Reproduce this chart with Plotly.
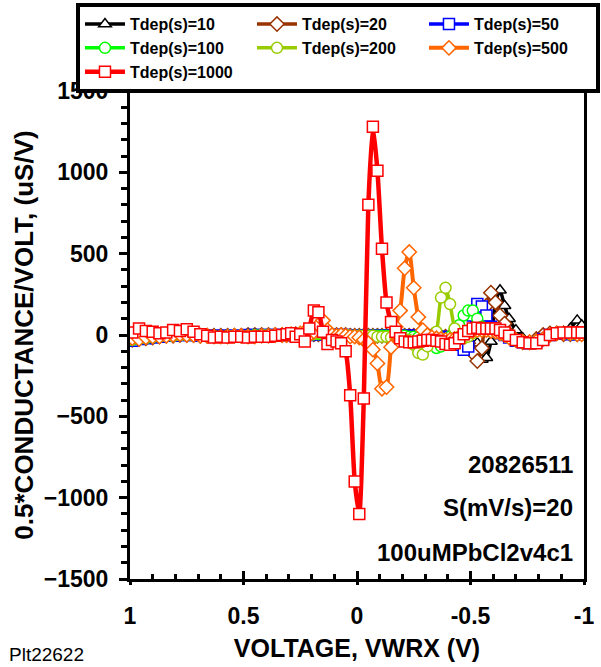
import plotly.graph_objects as go

# ---------------- data ----------------
VOLTAGE = [0.99, 0.96, 0.93, 0.90, 0.87, 0.84, 0.81, 0.78, 0.75, 0.72, 0.69, 0.66,
           0.63, 0.60, 0.57, 0.54, 0.51, 0.48, 0.45, 0.42, 0.39, 0.36, 0.33,
           0.31, 0.29, 0.27, 0.25, 0.23, 0.21, 0.19, 0.17, 0.15, 0.13, 0.11, 0.09,
           0.07, 0.05, 0.03, 0.01, -0.01, -0.03, -0.05, -0.07, -0.09, -0.11, -0.13,
           -0.15, -0.17, -0.19, -0.21, -0.23, -0.25, -0.27, -0.29, -0.31, -0.33,
           -0.35, -0.37, -0.39, -0.41, -0.43, -0.45, -0.47, -0.49, -0.51, -0.53,
           -0.55, -0.57, -0.59, -0.61, -0.63, -0.65, -0.67,
           -0.70, -0.73, -0.76, -0.79, -0.82, -0.85, -0.88, -0.91, -0.94, -0.97, -0.99]

TDEP_10 = [-40, -35, -30, -25, -20, -15, -10, -5, -5, -5, -5, -5, -5, -5, -5, -5, -5, -5, 0, 0, 0, 0, 0,
           0, 0, 5, 5, 0, 0, 5, 5, 5, 0, 0, 0, 0, 0, -5, -5, -5, -5, -5, -5, -5, -5, -5, -5, -5, -5,
           -5, -5, -5, -5, -5, -5, -5, -5, -5, -10, -10, -10, -15, -15, -20, -20, -50, -150, -140, -40,
           200, 275, 180, 100,
           30, -20, -40, -45, -25, 0, 10, 20, 40, 90, 60]
TDEP_20 = [-30, -25, -20, -15, -10, -5, -5, 0, 0, 0, -5, -5, -5, -5, -5, -5, -5, 0, 0, 0, 0, 0, 0,
           0, 0, 5, 5, 0, 0, 5, 5, 5, 0, 0, 0, 0, 0, -5, -5, -5, -5, -5, -5, -5, -5, -5, -5, -5, -5,
           -5, -5, -5, -5, -5, -5, -5, -5, -10, -10, -10, -15, -20, -30, -50, -110, -160, -80, 180,
           260, 200, 120, 70,
           10, -30, -45, -45, -25, 0, 10, 10, 5, 5, 5]
TDEP_50 = [-35, -25, -20, -15, -10, -5, -5, 0, 0, 0, -5, -5, -5, -5, -5, -5, -5, 0, 0, 0, 0, 0, 0,
           0, 0, 5, 5, 0, 0, 5, 5, 5, 0, 0, 0, 0, 0, -5, -5, -5, -5, -5, -5, -5, -5, -5, -5, -5, -5,
           -5, -5, -5, -5, -5, -5, -10, -10, -10, -15, -20, -30, -60, -90, -70, 120, 190, 175, 120,
           50, 20, 10, 0, -15,
           -35, -45, -50, -45, -25, 0, 10, 10, 5, 5, 5]
TDEP_100 = [-30, -25, -20, -15, -10, -5, -5, 0, 0, 0, -5, -5, -5, -10, -5, -5, -5, -5, 0, 0, 0, 0, 0,
            0, 0, 5, 5, 0, 0, 5, 5, 5, 0, 0, 0, 0, 0, -5, -5, -5, -5, -5, -5, -5, -5, -5, -5, -5, -5,
            -5, -10, -10, -15, -20, -30, -60, -80, -70, -40, -10, 30, 60, 120, 150, 150, 100, 50, 30,
            25, 20, 10, 0, -15,
            -35, -45, -50, -45, -25, 0, 10, 10, 5, 5, 5]
TDEP_200 = [-25, -20, -15, -10, -10, -5, -5, 0, 0, 0, -5, -5, -10, -10, -5, -5, -5, -5, -5, 0, 0, 0, 0,
            0, 0, 5, 5, 0, 0, 5, 10, 10, 5, 0, 0, 0, 0, -5, -5, -5, -5, -5, -5, -10, -10, -10, -15,
            -20, -20, -25, -30, -60, -110, -120, -70, -30, 20, 230, 290, 190, 40, -10, -20, -10, 10,
            25, 30, 30, 25, 20, 10, 0, -15,
            -30, -40, -45, -40, -25, 0, 10, 10, 5, 5, 5]
TDEP_500 = [-20, -25, -15, -10, -10, -5, 0, 5, 0, 0, -5, -5, -10, -10, -10, -5, -5, -10, -10, -5, -5, 0, 0,
            0, 5, 0, 10, 20, 0, 20, 60, 90, 30, 0, -5, 0, -5, -10, -10, -15, -30, -50, -90, -175,
            -330, -320, -75, 50, 150, 410, 510, 290, 110, 30, 0, -15, -20, -25, -30, -30, -25, -15,
            0, 15, 25, 30, 30, 30, 25, 20, 10, 0, -15,
            -30, -40, -45, -40, -25, 0, 10, 10, 10, 5, 5]
TDEP_1000 = [15, 40, 25, 20, 10, 15, 30, 25, 35, 20, 5, -5, -15, -10, -15, -10, -10, -15, -10, -10, -10, -5, 0,
             5, 10, -10, 5, -40, 40, 150, 140, 20, -55, -30, -40, -50, -100, -370, -900, -1100, -390,
             800, 1280, 1010, 530, 200, 80, 20, -20, -40, -45, -45, -40, -35, -30, -30, -35, -40, -55,
             -60, -50, -20, 5, 25, 40, 45, 40, 40, 40, 40, 30, 15, -5,
             -30, -45, -50, -50, -30, 0, 10, 15, 15, 15, 15]

SERIES = [
    ("Tdep(s)=10", TDEP_10, "#000000", "triangle-up", 3.5),
    ("Tdep(s)=20", TDEP_20, "#993300", "diamond", 3.5),
    ("Tdep(s)=50", TDEP_50, "#0000FF", "square", 3.5),
    ("Tdep(s)=100", TDEP_100, "#00FF00", "circle", 3.5),
    ("Tdep(s)=200", TDEP_200, "#99CC00", "circle", 3.5),
    ("Tdep(s)=500", TDEP_500, "#FF6600", "diamond", 4.0),
    ("Tdep(s)=1000", TDEP_1000, "#FF0000", "square", 4.5),
]

X_TICKS = [1, 0.5, 0, -0.5, -1]
X_TICKTEXT = ["1", "0.5", "0", "-0.5", "-1"]

FONT = "Liberation Sans, Arial, sans-serif"

fig = go.Figure()
for name, vals, color, sym, lw in SERIES:
    fig.add_trace(go.Scatter(
        x=VOLTAGE, y=vals, name=name, mode="lines+markers",
        line=dict(color=color, width=lw, shape="spline", smoothing=0.6),
        marker=dict(symbol=sym, size=11, color="white",
                    line=dict(color=color, width=1.5)),
    ))

# helper trace for crossing major ticks on the x axis
fig.add_trace(go.Scatter(x=[None], y=[None], xaxis="x2", showlegend=False,
                         hoverinfo="skip"))

fig.update_layout(
    width=601, height=667,
    margin=dict(l=130, r=17, t=91, b=88, autoexpand=False),
    paper_bgcolor="white", plot_bgcolor="white",
    font=dict(family=FONT, color="black"),
    showlegend=True,
    legend=dict(
        orientation="h", x=-0.119, y=1.18, xanchor="left", yanchor="top",
        bgcolor="white", bordercolor="black", borderwidth=4,
        font=dict(family=FONT, size=16, weight="bold"),
        entrywidth=117, entrywidthmode="pixels", itemwidth=40,
        tracegroupgap=0,
    ),
    xaxis=dict(
        range=[1, -1], autorange=False,
        tickvals=X_TICKS, ticktext=X_TICKTEXT,
        ticks="inside", ticklen=8, tickwidth=3, tickcolor="black",
        minor=dict(dtick=0.1, ticks="inside", ticklen=5, tickwidth=3, tickcolor="black"),
        showline=True, linewidth=3, linecolor="black", mirror=False,
        showgrid=False, zeroline=False,
        tickfont=dict(family=FONT, size=23, weight="bold"),
        ticklabelstandoff=14,
        title=dict(text="VOLTAGE, VWRX (V)", standoff=12,
                   font=dict(family=FONT, size=25, weight="bold")),
    ),
    xaxis2=dict(
        overlaying="x", matches="x", anchor="y", side="bottom",
        range=[1, -1], autorange=False,
        tickvals=X_TICKS, ticks="outside", ticklen=5, tickwidth=3, tickcolor="black",
        showticklabels=False, showline=False, showgrid=False, zeroline=False,
    ),
    yaxis=dict(
        range=[-1500, 1500], autorange=False, dtick=500,
        ticks="outside", ticklen=8, tickwidth=3, tickcolor="black",
        minor=dict(dtick=100, ticks="outside", ticklen=6, tickwidth=3, tickcolor="black"),
        showline=True, linewidth=3, linecolor="black", mirror=True,
        showgrid=False, zeroline=False,
        tickfont=dict(family=FONT, size=23, weight="bold"),
        ticklabelstandoff=6,
        title=dict(text="0.5*CONDUCTANCE/VOLT, (uS/V)", standoff=3,
                   font=dict(family=FONT, size=26, weight="bold")),
    ),
)

ann_font = dict(family=FONT, size=24, color="black", weight="bold")
for txt, yy in [("20826511", 0.234), ("S(mV/s)=20", 0.146), ("100uMPbCl2v4c1", 0.055)]:
    fig.add_annotation(text=txt, xref="paper", yref="paper", x=0.98, y=yy,
                       xanchor="right", yanchor="middle", showarrow=False, font=ann_font)

fig.add_annotation(text="Plt22622", xref="paper", yref="paper", x=-0.27, y=-0.155,
                   xanchor="left", yanchor="middle", showarrow=False,
                   font=dict(family=FONT, size=19, color="black"))

fig.write_html("out.html")
